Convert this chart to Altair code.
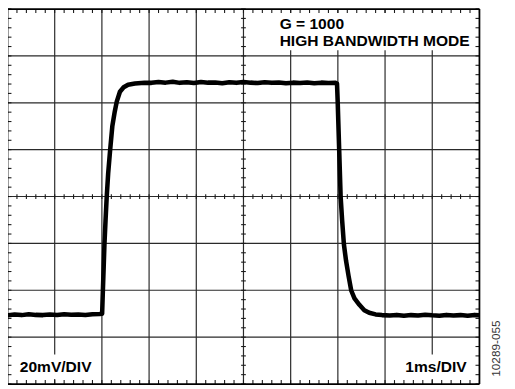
import altair as alt
import pandas as pd
import numpy as np

# ---------------- data (time in ms, amplitude in mV) ----------------
t_low1 = [0.0, 0.15, 0.3, 0.45, 0.6, 0.75, 0.9, 1.05, 1.2, 1.35, 1.5, 1.65, 1.8, 1.95]
v_low1 = [-50.7, -50.3, -50.6, -50.2, -50.5, -50.6, -50.3, -50.5, -50.2, -50.4, -50.3, -50.5, -50.2, -50.1]

t_rise = [2.005, 2.021, 2.038, 2.054, 2.077, 2.102, 2.133, 2.173, 2.221, 2.273, 2.315, 2.382, 2.461, 2.555, 2.701, 2.903]
v_rise = [-50.0, -40.1, -30.0, -20.4, -10.3, -0.2, 9.9, 19.5, 30.0, 36.3, 40.5, 44.7, 46.6, 47.7, 48.2, 48.5]

t_high = [3.05, 3.2, 3.35, 3.5, 3.65, 3.8, 3.95, 4.1, 4.25, 4.4, 4.55, 4.7, 4.85, 5.0,
          5.15, 5.3, 5.45, 5.6, 5.75, 5.9, 6.05, 6.2, 6.35, 6.5, 6.65, 6.8, 6.95]
v_high = [48.5, 48.9, 48.6, 49.0, 48.5, 48.8, 48.4, 48.9, 48.6, 48.7, 48.3, 48.8, 48.5, 48.9,
          48.6, 48.4, 48.8, 48.5, 48.7, 48.3, 48.6, 48.4, 48.7, 48.3, 48.6, 48.4, 48.5]

t_fall = [6.982, 6.997, 7.028, 7.059, 7.091, 7.128, 7.174, 7.226, 7.283, 7.352, 7.456, 7.560, 7.664, 7.8, 7.935]
v_fall = [48.2, 40.1, 19.9, -0.2, -10.3, -20.4, -27.5, -33.8, -40.1, -43.5, -46.2, -48.5, -49.6, -50.3, -50.6]

t_low2 = [8.1, 8.25, 8.4, 8.55, 8.7, 8.85, 9.0, 9.15, 9.3, 9.45, 9.6, 9.75, 9.9, 10.0]
v_low2 = [-50.8, -50.5, -50.9, -50.6, -50.8, -50.4, -50.7, -50.9, -50.5, -50.8, -50.6, -50.9, -50.5, -50.7]

x_major = [0, 1, 2, 3, 4, 5, 6, 7, 8, 9, 10]            # 1 ms/DIV
y_major = [-80, -60, -40, -20, 0, 20, 40, 60, 80]        # 20 mV/DIV
labels_top = ["G = 1000", "HIGH BANDWIDTH MODE"]
label_v = "20mV/DIV"
label_t = "1ms/DIV"
fig_id = "10289-055"

# ---------------- build tables ----------------
trace = pd.DataFrame({
    "t": t_low1 + t_rise + t_high + t_fall + t_low2,
    "v": v_low1 + v_rise + v_high + v_fall + v_low2,
})

XMIN, XMAX, YMIN, YMAX = 0, 10, -80, 80
xs = alt.Scale(domain=[XMIN, XMAX], range=[-0.5, 479], nice=False, zero=False)
ys = alt.Scale(domain=[YMIN, YMAX], range=[379, -2], nice=False, zero=False)

inner_v = pd.DataFrame({"x": x_major[1:-1], "x2": x_major[1:-1], "y": YMIN, "y2": YMAX})
inner_h = pd.DataFrame({"x": XMIN, "x2": XMAX, "y": y_major[1:-1], "y2": y_major[1:-1]})
border = pd.DataFrame({
    "x": [XMIN, XMAX, XMIN, XMIN], "x2": [XMIN, XMAX, XMAX, XMAX],
    "y": [YMIN, YMIN, YMIN, YMAX], "y2": [YMAX, YMAX, YMIN, YMAX],
})

# minor ticks: 5 per division
tx = 4 / 47.95          # 4 px in ms
ty = 4 / 47.625 * 20    # 4 px in mV
cx, cy = tx * 0.6, ty * 0.6
mx = [XMIN + i * 0.2 for i in range(51)]
my = [YMIN + i * 4 for i in range(41)]
rows = []
for x in mx:
    rows.append((x, x, YMAX, YMAX - ty))
    rows.append((x, x, YMIN, YMIN + ty))
    rows.append((x, x, -cy, cy))
for y in my:
    rows.append((XMIN, XMIN + tx, y, y))
    rows.append((XMAX, XMAX - tx, y, y))
    rows.append((5 - cx, 5 + cx, y, y))
minor = pd.DataFrame(rows, columns=["x", "x2", "y", "y2"])


def rules(df, color, width):
    return alt.Chart(df).mark_rule(color=color, strokeWidth=width).encode(
        x=alt.X("x:Q", scale=xs, axis=None),
        x2="x2:Q",
        y=alt.Y("y:Q", scale=ys, axis=None),
        y2="y2:Q",
    )


one = pd.DataFrame({"k": [0]})


def box(x0, x1, y0, y1):
    return alt.Chart(one).mark_rect(color="white").encode(
        x=alt.value(x0), x2=alt.value(x1), y=alt.value(y0), y2=alt.value(y1)
    )


def label(txt, x, y, align="left", size=15.8, bold=True, angle=0, color="black", baseline="alphabetic"):
    return alt.Chart(pd.DataFrame({"s": [txt]})).mark_text(
        font="Liberation Sans", fontSize=size, fontWeight="bold" if bold else "normal",
        align=align, baseline=baseline, angle=angle, color=color,
    ).encode(x=alt.value(x), y=alt.value(y), text="s:N")


line = alt.Chart(trace).mark_line(color="black", strokeWidth=4.6, strokeJoin="round").encode(
    x=alt.X("t:Q", scale=xs, axis=None),
    y=alt.Y("v:Q", scale=ys, axis=None),
)

chart = alt.layer(
    rules(inner_v, "#2a2a2a", 1.2),
    rules(inner_h, "#2a2a2a", 1.2),
    box(272, 475, 2, 40),
    box(8, 90, 349, 374),
    box(414, 475, 349, 374),
    rules(minor, "#1a1a1a", 1.1),
    rules(border, "black", 1.8),
    line,
    label(labels_top[0], 276, 18.7),
    label(labels_top[1], 276, 35.3),
    label(label_v, 12, 367),
    label(label_t, 466, 367, align="right"),
    label(fig_id, 496, 343, align="center", size=12, bold=False, angle=270,
          color="#333333", baseline="middle"),
).properties(
    width=507, height=381, autosize=alt.AutoSizeParams(type="none"), padding=0
).configure_view(strokeWidth=0)

chart.save("out.html", embed_options={"renderer": "svg", "actions": False})
